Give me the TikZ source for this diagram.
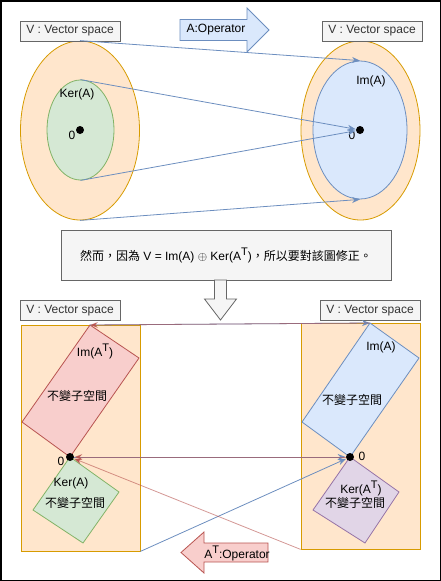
\documentclass[tikz,border=0pt]{standalone}
\usepackage{fontspec}
\setmainfont{Liberation Sans}
\newfontfamily\cjk{Noto Sans CJK TC}
\usetikzlibrary{arrows.meta,shapes.geometric}
\definecolor{orfill}{HTML}{FFE6CC}\definecolor{orline}{HTML}{D79B00}
\definecolor{grfill}{HTML}{D5E8D4}\definecolor{grline}{HTML}{82B366}
\definecolor{blfill}{HTML}{DAE8FC}\definecolor{blline}{HTML}{6C8EBF}
\definecolor{rdfill}{HTML}{F8CECC}\definecolor{rdline}{HTML}{B85450}
\definecolor{ppfill}{HTML}{E1D5E7}\definecolor{ppline}{HTML}{9673A6}
\definecolor{gyfill}{HTML}{F5F5F5}\definecolor{gyline}{HTML}{666666}
\newcommand{\supT}{\raisebox{5pt}{\fontsize{11}{12}\selectfont T}}
\tikzset{
  vlabel/.style={draw=gyline,fill=gyfill,minimum width=100pt,minimum height=20pt,inner sep=0pt,text=black!80},
  zdot/.style={circle,fill=black,inner sep=0pt,minimum size=8pt},
  bluearrow/.style={draw=blline,-{Stealth[length=8pt,width=6pt]}},
  redarrow/.style={draw=rdline,-{Stealth[length=8pt,width=6pt]}}
}
\begin{document}
\begin{tikzpicture}[x=1pt,y=-1pt,line width=0.8pt,font=\fontsize{12}{14}\selectfont]
  \useasboundingbox (0,0) rectangle (441,581);
  \draw[line width=1.5pt] (0.75,0.75) rectangle (440.25,580.25);

  \begin{scope}[every node/.style={ellipse,inner sep=0pt}]
    \node[draw=orline,fill=orfill,minimum width=119pt,minimum height=179pt] (V1) at (80,130.5) {};
    \node[draw=grline,fill=grfill,minimum width=67pt,minimum height=100pt] (ker) at (80.5,130) {};
    \node[draw=orline,fill=orfill,minimum width=119pt,minimum height=179pt] (V2) at (360.5,130.5) {};
    \node[draw=blline,fill=blfill,minimum width=94pt,minimum height=138pt] (im) at (360,130) {};
  \end{scope}

  \node[vlabel] (lab1) at (70,31) {V : Vector space};
  \node[vlabel] (lab2) at (372,31) {V : Vector space};
  \draw[draw=blline,fill=blfill] (180,19.5) -- (247,19.5) -- (247,8) -- (269,30) -- (247,52) -- (247,40.5) -- (180,40.5) -- cycle;
  \node (op) at (216,30) {A:Operator};

  \node (kerA) at (77,94) {Ker(A)};
  \node (imA) at (371,81) {Im(A)};
  \node[zdot] (z1) at (80,130) {};
  \node[zdot] (z2) at (360,130) {};
  \node (o1) at (72,135) {0};
  \node (o2) at (352,135) {0};

  \begin{scope}[every edge/.style={bluearrow}]
    \path (V1.north)  edge (im.north);
    \path (ker.north) edge (z2);
    \path (ker.south) edge (z2);
    \path (V1.south)  edge (im.south);
  \end{scope}

  \node[draw=gyline,fill=gyfill,minimum width=330pt,minimum height=50pt] (note) at (226,255)
    {{\cjk 然而，因為} V = Im(A) $\oplus$ Ker(A\supT){\cjk ，所以要對該圖修正。}};
  \draw[draw=gyline,fill=gyfill] (214.5,280) -- (226.5,280) -- (226.5,299) -- (236.5,299) -- (220.5,320) -- (204.5,299) -- (214.5,299) -- cycle;

  \node[vlabel] (lab3) at (70,310.5) {V : Vector space};
  \node[vlabel] (lab4) at (370,310.5) {V : Vector space};

  \begin{scope}[every node/.style={draw=orline,fill=orfill,inner sep=0pt,minimum width=119pt,minimum height=226pt}]
    \node (V3) at (80.5,438) {};
    \node (V4) at (360.5,436) {};
  \end{scope}

  \coordinate (imAT) at (90,325);
  \coordinate (imAt) at (370,323);
  \draw[draw=rdline,fill=rdfill] (imAT) -- (139,358) -- (70,457) -- (22,422) -- cycle;
  \draw[draw=grline,fill=grfill] (70,457) -- (119,492) -- (83,543) -- (33,510) -- cycle;
  \draw[draw=blline,fill=blfill] (imAt) -- (419,358) -- (350,457) -- (302,422) -- cycle;
  \draw[draw=ppline,fill=ppfill] (350,457) -- (399,492) -- (365,543) -- (313,510) -- cycle;

  \begin{scope}[every node/.style={align=center}]
    \node (imT) at (95,351) {Im(A\supT)};
    \node (inv1) at (77,396) {\cjk 不變子空間};
    \node (kerB) at (71,483) {Ker(A)};
    \node (inv2) at (75,503) {\cjk 不變子空間};
    \node (imB) at (381,347) {Im(A)};
    \node (inv3) at (352,400) {\cjk 不變子空間};
    \node (kerT) at (361,488) {Ker(A\supT)};
    \node (inv4) at (355,503) {\cjk 不變子空間};
    \node (o3) at (61,461) {0};
    \node (o4) at (362,456) {0};
  \end{scope}

  \node[zdot] (z3) at (70,457) {};
  \node[zdot] (z4) at (350,457) {};

  \begin{scope}[every edge/.style={bluearrow}]
    \path (imAT) edge (imAt);
    \path (z3) edge (z4);
    \path (V3.south east) edge (z4);
  \end{scope}
  \begin{scope}[every edge/.style={redarrow,draw opacity=.6}]
    \path (imAt) edge (imAT);
    \path (z4) edge (z3);
    \path (V4.south west) edge (z3);
  \end{scope}

  \draw[draw=rdline,fill=rdfill] (268,543) -- (204,543) -- (204,532) -- (181,552.5) -- (204,573) -- (204,562) -- (268,562) -- cycle;
  \node (opT) at (237,553) {A\supT:Operator};
\end{tikzpicture}
\end{document}
